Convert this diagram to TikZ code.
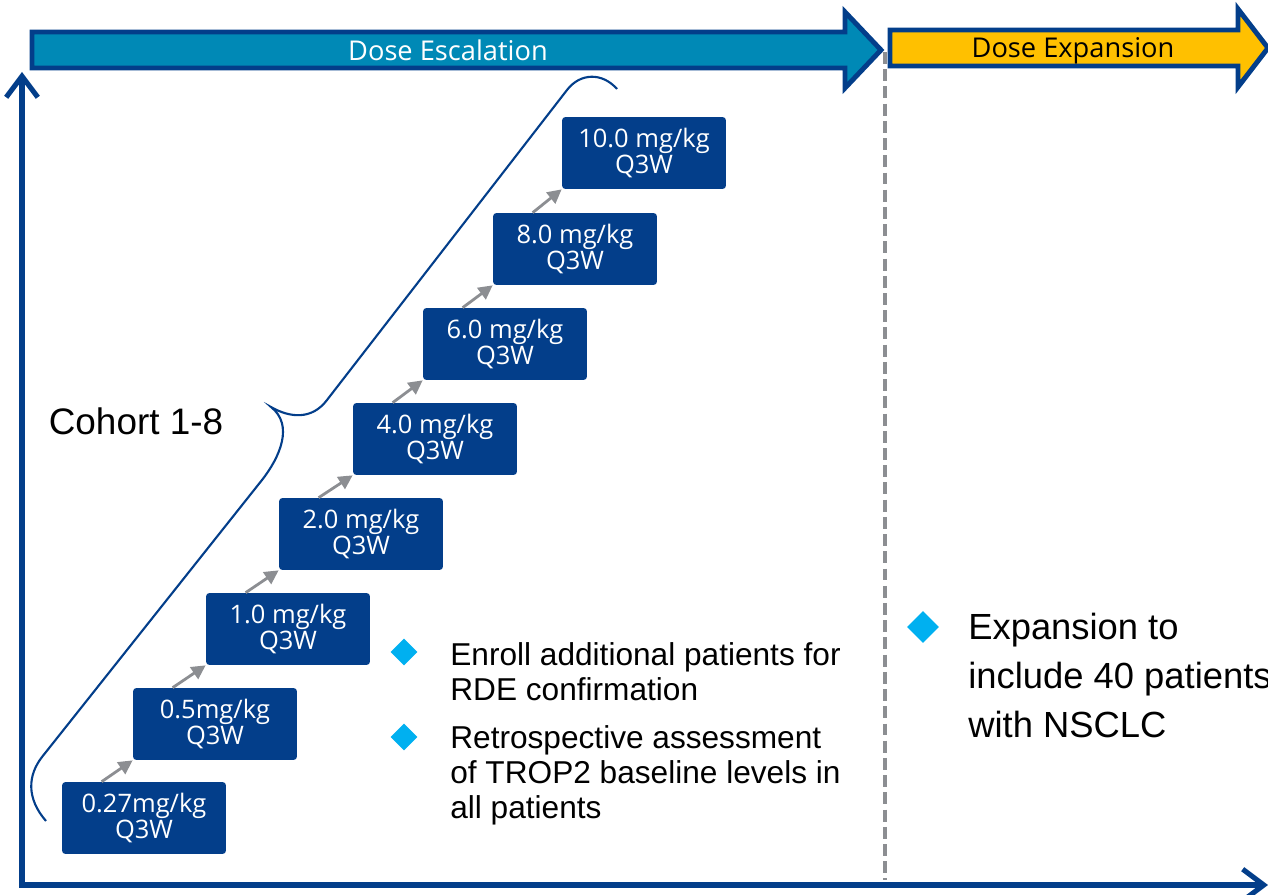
\documentclass[tikz,border=0pt]{standalone}
\usepackage{fontspec}
\setmainfont{Liberation Sans}
\newfontfamily\segoe{Open Sans}
\usetikzlibrary{arrows.meta, shapes.geometric, positioning}

\definecolor{navy}{RGB}{3,62,138}
\definecolor{escblue}{RGB}{0,137,182}
\definecolor{amber}{RGB}{255,192,0}
\definecolor{arrowgray}{RGB}{140,142,146}
\definecolor{bulletblue}{RGB}{0,176,240}

\tikzset{
	dose/.style={rectangle, rounded corners=2pt, fill=navy, text=white, minimum width=3.28cm, minimum height=1.44cm, inner sep=0pt, align=center, font=\segoe\fontsize{14.5}{13.7}\selectfont},
	phase/.style={draw=navy, line width=2.8pt, miter limit=10},
	link/.style={->, draw=arrowgray, fill=arrowgray, line width=1.6pt},
	bullet/.style={diamond, aspect=1, fill=bulletblue, inner sep=0pt, minimum size=0.54cm},
	note/.style={align=left, inner sep=0pt, anchor=north west},
}

\begin{document}
\begin{tikzpicture}[x=0.02cm, y=-0.02cm, >={Triangle[length=8pt, width=8pt]}]

	\useasboundingbox (0,0) rectangle (1268,895);

	% phase bars
	\draw[phase, fill=escblue] (32,32) -- (845,32) -- (845,12) -- (881,50) -- (845,88) -- (845,68) -- (32,68) -- cycle;
	\draw[phase, fill=amber] (890,30) -- (1238,30) -- (1238,9) -- (1268,48) -- (1238,87) -- (1238,66) -- (890,66) -- cycle;
	\node[anchor=base, text=white, font=\segoe\fontsize{15.5}{18}\selectfont]	(esc)	at	(448, 61)	{Dose Escalation};
	\node[anchor=base, font=\segoe\fontsize{15.5}{18}\selectfont]	(exp)	at	(1073, 58)	{Dose Expansion};

	% axes and split
	\coordinate	(ytop)		at	(22, 72);
	\coordinate	(origin)	at	(22, 885);
	\coordinate	(xend)		at	(1268, 885);
	\coordinate	(split)		at	(885, 52);
	\coordinate	(splitend)	at	(885, 880);
	\draw[navy, line width=2.9pt, {Straight Barb[length=12pt, width=18pt]}-{Straight Barb[length=12pt, width=18pt]}] (ytop) -- (origin) -- (xend);
	\draw[arrowgray, line width=2.3pt, dash pattern=on 6.8pt off 3pt] (split) -- (splitend);

	% dose levels
	\node[dose]	(d1)	at	(144, 818)	{0.27mg/kg\\Q3W};
	\node[dose]	(d2)	at	(215, 724)	{0.5mg/kg\\Q3W};
	\node[dose]	(d3)	at	(288, 629)	{1.0 mg/kg\\Q3W};
	\node[dose]	(d4)	at	(361, 534)	{2.0 mg/kg\\Q3W};
	\node[dose]	(d5)	at	(435, 439)	{4.0 mg/kg\\Q3W};
	\node[dose]	(d6)	at	(505, 344)	{6.0 mg/kg\\Q3W};
	\node[dose]	(d7)	at	(575, 249)	{8.0 mg/kg\\Q3W};
	\node[dose]	(d8)	at	(644, 153)	{10.0 mg/kg\\Q3W};

	\path	([xshift=0.8cm]d1.north west)	edge[link]	(d2.south west)
			([xshift=0.8cm]d2.north west)	edge[link]	(d3.south west)
			([xshift=0.8cm]d3.north west)	edge[link]	(d4.south west)
			([xshift=0.8cm]d4.north west)	edge[link]	(d5.south west)
			([xshift=0.8cm]d5.north west)	edge[link]	(d6.south west)
			([xshift=0.8cm]d6.north west)	edge[link]	(d7.south west)
			([xshift=0.8cm]d7.north west)	edge[link]	(d8.south west);

	% cohort brace
	\draw[navy, line width=1.2pt] (46,821) .. controls (26,798) and (28,775) .. (42,757) -- (262,480)
		.. controls (280,457) and (294,425) .. (271,407)
		.. controls (290,418) and (312,420) .. (327,400) -- (567,90)
		.. controls (580,73) and (602,72) .. (617,89);
	\node[font=\fontsize{21}{25}\selectfont]	(cohort)	at	(136, 421)	{Cohort 1-8};

	% notes
	\node[bullet]	(b1)	at	(404, 652)	{};
	\node[note, font=\fontsize{18}{19.9}\selectfont]	(t1)	at	(450, 642)	{Enroll additional patients for\\RDE confirmation};
	\node[bullet]	(b2)	at	(404, 737)	{};
	\node[note, font=\fontsize{18}{19.9}\selectfont]	(t2)	at	(450, 725)	{Retrospective assessment\\of TROP2 baseline levels in\\all patients};
	\node[bullet, minimum size=0.64cm]	(b3)	at	(923, 627)	{};
	\node[note, font=\fontsize{20.7}{27.9}\selectfont]	(t3)	at	(968, 613)	{Expansion to\\include 40 patients\\with NSCLC};

\end{tikzpicture}
\end{document}
